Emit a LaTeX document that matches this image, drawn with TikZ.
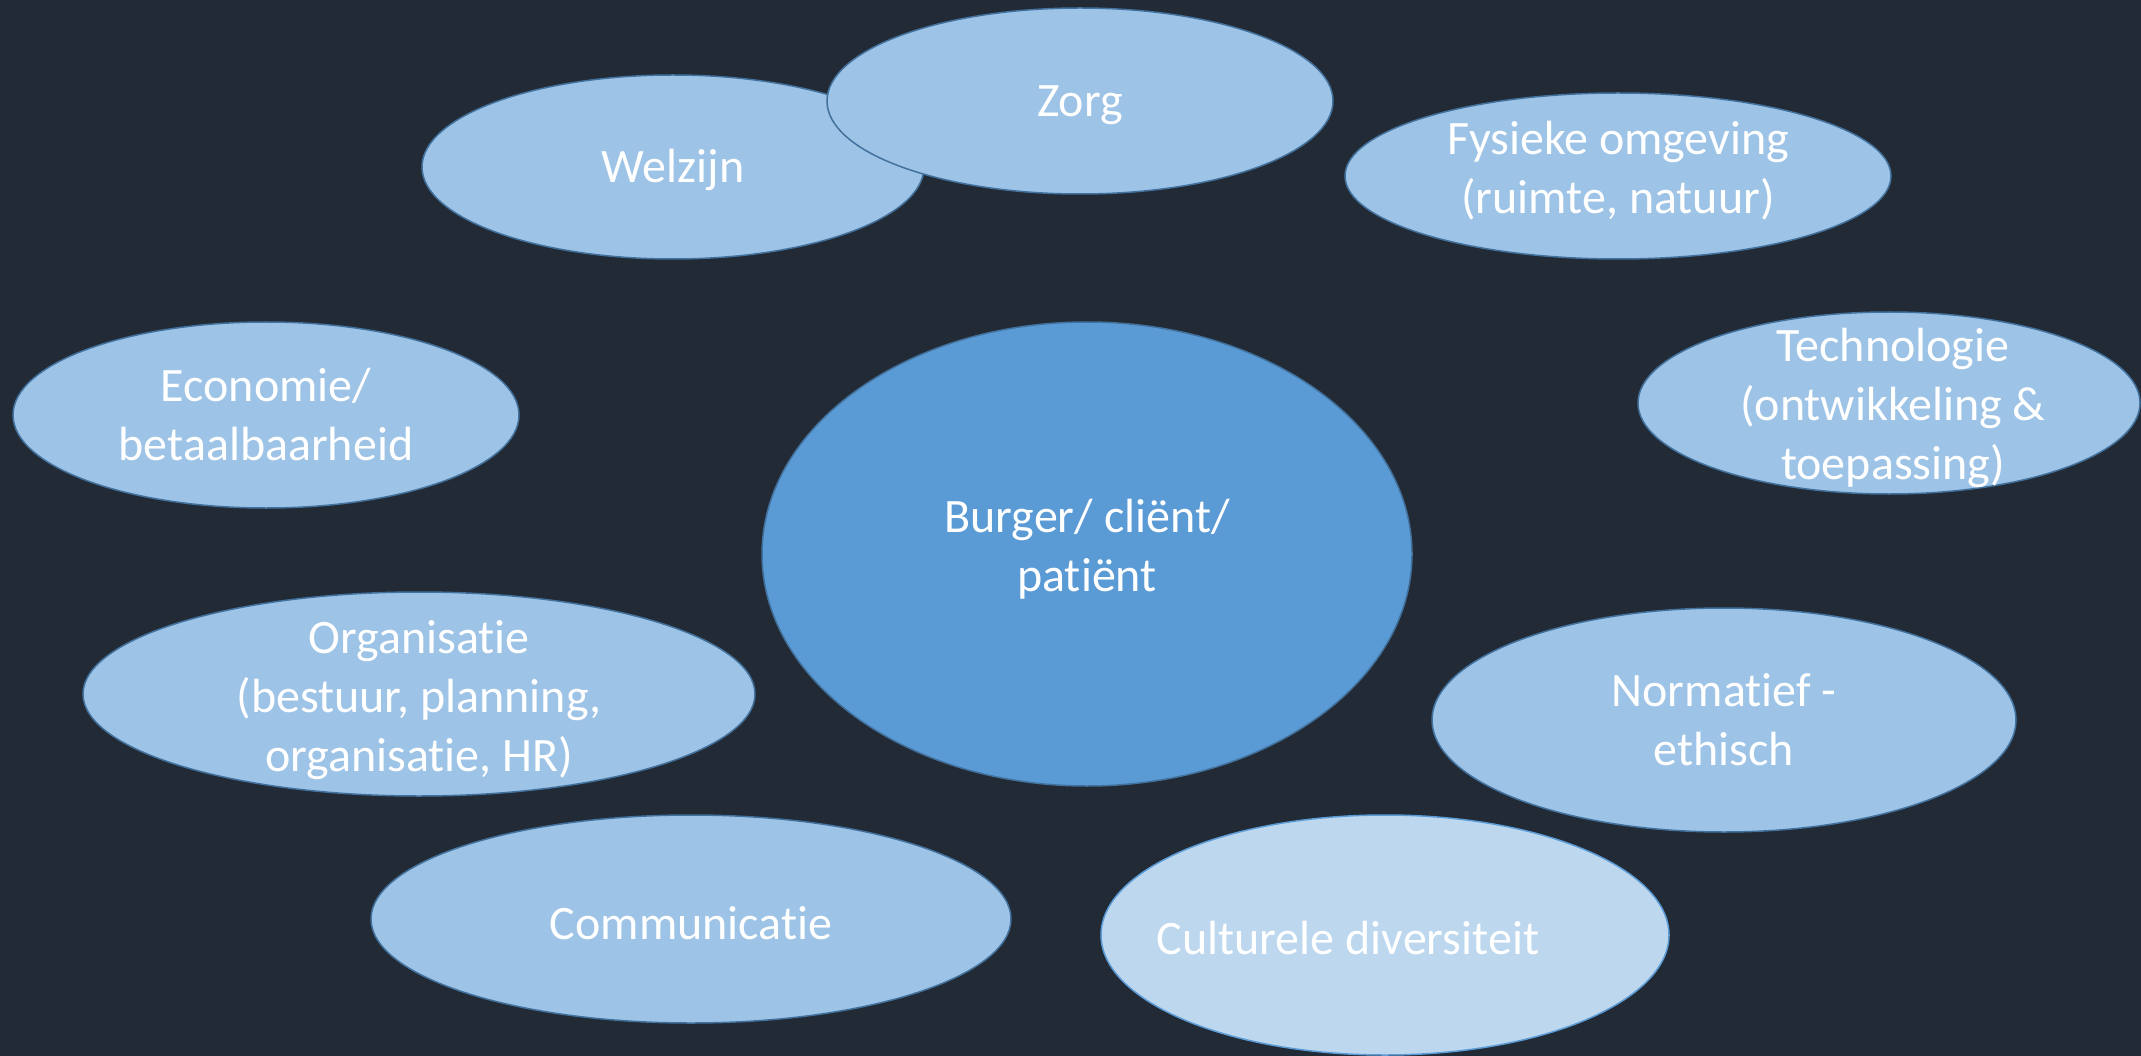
\documentclass[tikz,border=0pt]{standalone}
\usepackage{fontspec}
\setmainfont[Ligatures=NoCommon,Contextuals=NoAlternate]{Carlito}
\usetikzlibrary{shapes.geometric}
\definecolor{bg}{HTML}{222A35}
\definecolor{lightfill}{HTML}{9DC3E6}
\definecolor{midfill}{HTML}{5B9BD5}
\definecolor{palefill}{HTML}{BDD7EE}
\definecolor{edgeblue}{HTML}{41719C}
\tikzset{
  bubble/.style={ellipse, draw=edgeblue, line width=1.5pt, fill=lightfill, inner sep=0pt},
  centrebubble/.style={bubble, fill=midfill},
  palebubble/.style={bubble, fill=palefill, draw=midfill},
  lbl/.style={text=white, align=center, inner sep=0pt, font=\fontsize{48}{59}\selectfont}
}
\begin{document}
\begin{tikzpicture}[x=1pt,y=-1pt]
\useasboundingbox (0,0) rectangle (2141,1056);
\fill[bg] (0,0) rectangle (2141,1056);
% ellipses
\node[bubble, minimum width=502pt, minimum height=184pt] (welzijn) at (673,167) {};
\node[bubble, minimum width=506pt, minimum height=186pt] (zorg) at (1080,101) {};
\node[bubble, minimum width=546pt, minimum height=166pt] (fysiek) at (1618,176) {};
\node[bubble, minimum width=502pt, minimum height=182pt] (techno) at (1889,403) {};
\node[bubble, minimum width=506pt, minimum height=186pt] (econ) at (266,415) {};
\node[centrebubble, minimum width=650pt, minimum height=464pt] (burger) at (1087,554) {};
\node[bubble, minimum width=672pt, minimum height=204pt] (organ) at (419,694) {};
\node[bubble, minimum width=584pt, minimum height=224pt] (norm) at (1724,720) {};
\node[bubble, minimum width=640pt, minimum height=208pt] (comm) at (691,919) {};
\node[palebubble, minimum width=568pt, minimum height=240pt] (cult) at (1385,935) {};
% labels (yshift is on the page: positive moves up)
\node[lbl] (welzijn-t) at ([yshift=-3pt]welzijn.center) {Welzijn};
\node[lbl] (zorg-t) at ([yshift=-4pt]zorg.center) {Zorg};
\node[lbl] (fysiek-t) at ([yshift=5pt]fysiek.center) {Fysieke omgeving\\(ruimte, natuur)};
\node[lbl] (techno-t) at ([xshift=4pt,yshift=-5pt]techno.center) {Technologie\\(ontwikkeling \&\\toepassing)};
\node[lbl] (econ-t) at (econ.center) {Economie/\\betaalbaarheid};
\node[lbl] (burger-t) at ([yshift=5pt]burger.center) {Burger/ cliënt/\\patiënt};
\node[lbl] (organ-t) at ([yshift=-6pt]organ.center) {Organisatie\\(bestuur, planning,\\organisatie, HR)};
\node[lbl] (norm-t) at (norm.center) {Normatief -\\ethisch};
\node[lbl] (comm-t) at ([yshift=-4pt]comm.center) {Communicatie};
\node[lbl] (cult-t) at ([xshift=-37pt,yshift=-3pt]cult.center) {Culturele diversiteit};
\end{tikzpicture}
\end{document}
